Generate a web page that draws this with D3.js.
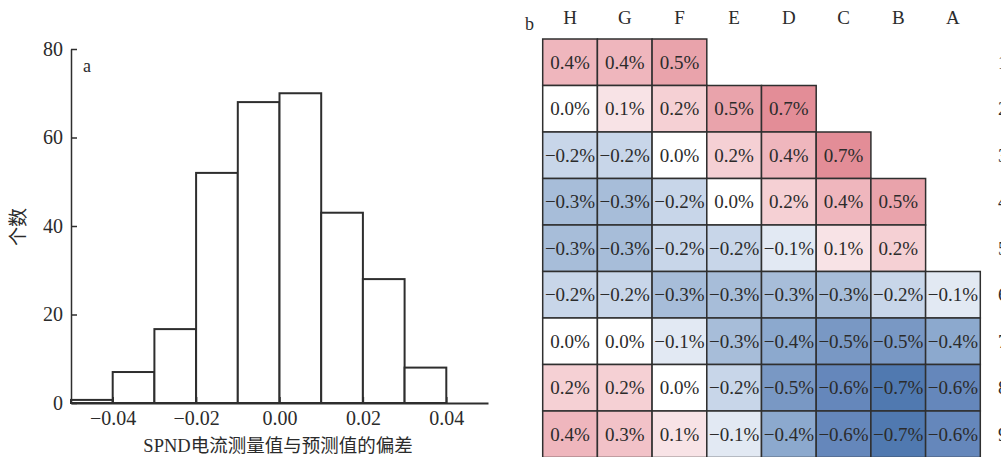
<!DOCTYPE html>
<html>
<head>
<meta charset="utf-8">
<script src="https://cdn.jsdelivr.net/npm/d3@7"></script>
<style>
  html, body { margin: 0; padding: 0; background: #fff; }
  svg { display: block; }
  text { font-family: "Liberation Serif", "Noto Sans CJK SC", serif; fill: #2b2b2b; }
</style>
</head>
<body>
<svg id="chart" width="1001" height="457"></svg>
<script>
// ---------- Panel a: histogram data ----------
const binStarts = [-0.05, -0.04, -0.03, -0.02, -0.01, 0.00, 0.01, 0.02, 0.03];
const binWidth = 0.01;
const binCounts = [0.7, 7, 16.7, 52, 68, 70, 43, 28, 8];
const histXTicks = [-0.04, -0.02, 0.00, 0.02, 0.04];
const histYTicks = [0, 20, 40, 60, 80];
const histXLabel = "SPND电流测量值与预测值的偏差";
const histYLabel = "个数";

// ---------- Panel b: heatmap data ----------
const columns = ["H", "G", "F", "E", "D", "C", "B", "A"];
const rows = ["1", "2", "3", "4", "5", "6", "7", "8", "9"];
const row1 = [0.4, 0.4, 0.5, null, null, null, null, null];
const row2 = [0.0, 0.1, 0.2, 0.5, 0.7, null, null, null];
const row3 = [-0.2, -0.2, 0.0, 0.2, 0.4, 0.7, null, null];
const row4 = [-0.3, -0.3, -0.2, 0.0, 0.2, 0.4, 0.5, null];
const row5 = [-0.3, -0.3, -0.2, -0.2, -0.1, 0.1, 0.2, null];
const row6 = [-0.2, -0.2, -0.3, -0.3, -0.3, -0.3, -0.2, -0.1];
const row7 = [0.0, 0.0, -0.1, -0.3, -0.4, -0.5, -0.5, -0.4];
const row8 = [0.2, 0.2, 0.0, -0.2, -0.5, -0.6, -0.7, -0.6];
const row9 = [0.4, 0.3, 0.1, -0.1, -0.4, -0.6, -0.7, -0.6];
const cellRows = [row1, row2, row3, row4, row5, row6, row7, row8, row9];

const svg = d3.select("#chart");
const SERIF = "'Liberation Serif', 'Noto Sans CJK SC', serif";

// ================= Panel a =================
const hx = d3.scaleLinear().domain([-0.05, 0.05]).range([71, 488]);
const hy = d3.scaleLinear().domain([0, 80]).range([403, 49]);

const gA = svg.append("g");

gA.selectAll("rect.bar")
  .data(binStarts.map((s, i) => ({ x0: s, x1: s + binWidth, n: binCounts[i] })))
  .join("rect")
  .attr("class", "bar")
  .attr("x", d => hx(d.x0))
  .attr("y", d => hy(d.n))
  .attr("width", d => hx(d.x1) - hx(d.x0))
  .attr("height", d => hy(0) - hy(d.n))
  .attr("fill", "#fff")
  .attr("stroke", "#2e2e2e")
  .attr("stroke-width", 2);

const xAxisA = d3.axisBottom(hx)
  .tickValues(histXTicks)
  .tickFormat(d3.format(".2f"))
  .tickSizeInner(-6).tickSizeOuter(0).tickPadding(8);
const gx = gA.append("g").attr("transform", `translate(0,${hy(0)})`).call(xAxisA);
gx.attr("font-family", SERIF);
gx.select(".domain").attr("stroke", "#2e2e2e").attr("stroke-width", 2);
gx.selectAll(".tick line").attr("stroke", "#2e2e2e").attr("stroke-width", 1.5);
gx.selectAll(".tick text").attr("font-size", 20).attr("fill", "#2b2b2b")
  .style("font-family", SERIF);

const yAxisA = d3.axisLeft(hy)
  .tickValues(histYTicks)
  .tickFormat(d3.format("d"))
  .tickSizeInner(-6).tickSizeOuter(0).tickPadding(8);
const gy = gA.append("g").attr("transform", `translate(${hx(-0.05)},0)`).call(yAxisA);
gy.attr("font-family", SERIF);
gy.select(".domain").attr("stroke", "#2e2e2e").attr("stroke-width", 1.5);
gy.selectAll(".tick line").attr("stroke", "#2e2e2e").attr("stroke-width", 1.5);
gy.selectAll(".tick text").attr("font-size", 20).attr("fill", "#2b2b2b")
  .style("font-family", SERIF);

gA.append("text")
  .attr("x", 278).attr("y", 452)
  .attr("text-anchor", "middle")
  .attr("font-size", 18.5)
  .text(histXLabel);

gA.append("text")
  .attr("transform", "translate(25,227) rotate(-90)")
  .attr("text-anchor", "middle")
  .attr("font-size", 19)
  .text(histYLabel);

gA.append("text")
  .attr("x", 83).attr("y", 72)
  .attr("font-size", 18)
  .text("a");

// ================= Panel b =================
const bx = d3.scaleBand().domain(columns).range([542.7, 980.3]).padding(0);
const by = d3.scaleBand().domain(rows).range([39, 457.5]).padding(0);

const color = d3.scaleLinear()
  .domain([-0.7, -0.6, -0.5, -0.4, -0.3, -0.2, -0.1, 0, 0.1, 0.2, 0.3, 0.4, 0.5, 0.7])
  .range(["#5079b0", "#6587bb", "#7998c4", "#8ca9ce", "#a7bdd9", "#c8d6e9", "#e2e9f3",
          "#ffffff", "#f8e3e6", "#f5d0d4", "#f2c2c8", "#efb6bd", "#e9a3ab", "#e38d97"])
  .clamp(true);

const cells = [];
cellRows.forEach((r, i) => r.forEach((v, j) => {
  if (v !== null) cells.push({ row: rows[i], col: columns[j], v });
}));

const gB = svg.append("g");
const fmt = d3.format(".1f");

gB.selectAll("rect.cell")
  .data(cells)
  .join("rect")
  .attr("class", "cell")
  .attr("x", d => bx(d.col))
  .attr("y", d => by(d.row))
  .attr("width", bx.bandwidth())
  .attr("height", by.bandwidth())
  .attr("fill", d => color(d.v))
  .attr("stroke", "#2f2f2f")
  .attr("stroke-width", 1.5);

gB.selectAll("text.val")
  .data(cells)
  .join("text")
  .attr("class", "val")
  .attr("x", d => bx(d.col) + bx.bandwidth() / 2)
  .attr("y", d => by(d.row) + by.bandwidth() / 2)
  .attr("dy", "0.35em")
  .attr("text-anchor", "middle")
  .attr("font-size", 19)
  .attr("fill", "#333")
  .text(d => fmt(d.v) + "%");

gB.selectAll("text.col")
  .data(columns)
  .join("text")
  .attr("class", "col")
  .attr("x", d => bx(d) + bx.bandwidth() / 2)
  .attr("y", 24)
  .attr("text-anchor", "middle")
  .attr("font-size", 19)
  .text(d => d);

gB.selectAll("text.row")
  .data(rows)
  .join("text")
  .attr("class", "row")
  .attr("x", 998)
  .attr("y", d => by(d) + by.bandwidth() / 2)
  .attr("dy", "0.35em")
  .attr("font-size", 19)
  .text(d => d);

gB.append("text")
  .attr("x", 525).attr("y", 30)
  .attr("font-size", 18)
  .text("b");
</script>
</body>
</html>
